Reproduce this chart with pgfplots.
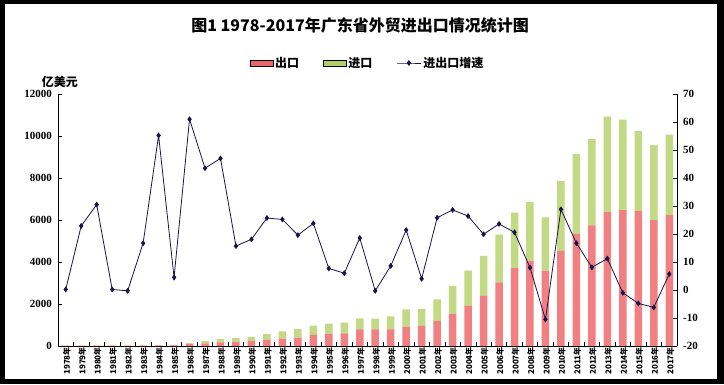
\documentclass[border=0pt]{standalone}
\usepackage{pgfplots}
\usepackage{pgfplotstable}
\pgfplotsset{compat=1.18}
\usepackage{fontspec}
\setmainfont{Liberation Serif}
\newfontfamily\cjk{Noto Sans CJK SC}
\definecolor{navy}{RGB}{25,20,75}
\definecolor{rL}{RGB}{236,100,105}
\definecolor{rM}{RGB}{250,170,170}
\definecolor{gL}{RGB}{178,206,100}
\definecolor{gM}{RGB}{214,233,165}
\definecolor{rB}{RGB}{241,128,130}
\definecolor{gB}{RGB}{196,217,132}
\pgfplotsset{myline/.style={legend image code/.code={\draw[mark repeat=2,mark phase=2,##1] plot coordinates {(0pt,0pt) (12pt,0pt) (24pt,0pt)};}}}

\pgfplotstableread{
i export import growth
0 13.9 2.0 0.2
1 17.1 2.5 22.9
2 21.9 3.8 30.5
3 22.0 3.7 0.2
4 21.9 3.7 -0.3
5 23.9 6.0 16.7
6 24.7 21.7 55.2
7 29.5 20.5 4.5
8 85 55 61.0
9 130 100 43.5
10 170 160 47.0
11 210 170 15.7
12 250 190 18.1
13 300 260 25.7
14 350 350 25.2
15 400 400 19.6
16 530 440 23.8
17 590 470 7.7
18 600 510 6.0
19 790 520 18.6
20 790 515 -0.3
21 790 620 8.6
22 920 820 21.4
23 960 810 4.0
24 1200 1020 25.8
25 1540 1320 28.6
26 1915 1675 26.4
27 2382 1908 19.9
28 3025 2275 23.6
29 3710 2640 20.6
30 4070 2790 8.0
31 3590 2530 -10.5
32 4535 3325 28.8
33 5340 3800 16.7
34 5750 4100 8.1
35 6370 4550 11.2
36 6470 4305 -1.0
37 6430 3805 -4.8
38 5995 3575 -6.2
39 6235 3830 5.7
}\data

\begin{document}
\begin{tikzpicture}[x=1pt,y=1pt]
\fill[black] (0pt,0pt) rectangle (724pt,384pt);
\fill[white] (5pt,5pt) rectangle (717pt,380pt);
\begin{axis}[
  at={(58pt,38pt)}, anchor=south west,
  width=619pt, height=252pt, scale only axis,
  xmin=-0.5, xmax=39.5, ymin=0, ymax=12000,
  axis x line*=bottom, axis y line*=left,
  axis line style={black, line width=0.8pt},
  tick align=inside, major tick length=4pt,
  tick style={black, line width=0.6pt},
  ytick={0,2000,...,12000},
  scaled y ticks=false,
  /pgf/number format/assume math mode=true,
  /pgf/number format/set thousands separator={},
  yticklabel style={font=\bfseries\fontsize{11}{13}\selectfont, inner sep=1pt, xshift=-5pt},
  xtick={-0.5,0.5,...,39.5},
  x tick label as interval,
  xticklabels={1978年,1979年,1980年,1981年,1982年,1983年,1984年,1985年,1986年,1987年,1988年,1989年,1990年,1991年,1992年,1993年,1994年,1995年,1996年,1997年,1998年,1999年,2000年,2001年,2002年,2003年,2004年,2005年,2006年,2007年,2008年,2009年,2010年,2011年,2012年,2013年,2014年,2015年,2016年,2017年},
  xticklabel style={rotate=90, anchor=east, font=\cjk\bfseries\fontsize{8}{8}\selectfont, inner sep=1pt, yshift=-1pt},
  ybar stacked, bar width=7.5pt,
  clip=false,
]
\addplot[draw=none, fill=rB] table[x=i, y=export] {\data};
\addplot[draw=none, fill=gB] table[x=i, y=import] {\data};
\node[font=\cjk\bfseries\fontsize{12}{14}\selectfont] at (axis description cs:0.003,1.05) {亿美元};
\node[font=\cjk\bfseries\fontsize{16}{18}\selectfont] at (axis description cs:0.488,1.274) {图1 1978-2017年广东省外贸进出口情况统计图};
\end{axis}
\begin{axis}[
  at={(58pt,38pt)}, anchor=south west,
  width=619pt, height=252pt, scale only axis,
  xmin=-0.5, xmax=39.5, ymin=-20, ymax=70,
  axis x line=none, axis y line*=right,
  axis line style={black, line width=0.8pt},
  tick align=inside, major tick length=4pt,
  tick style={black, line width=0.6pt},
  ytick={-20,-10,...,70},
  /pgf/number format/assume math mode=true,
  yticklabel style={font=\bfseries\fontsize{11}{13}\selectfont, inner sep=1pt, xshift=5pt},
  legend columns=3,
  legend style={at={(0.5,1.123)}, anchor=center, draw=none, fill=none,
    font=\cjk\bfseries\fontsize{12}{14}\selectfont,
    /tikz/every even column/.append style={column sep=22pt}},
  clip=false,
]
\addlegendimage{area legend, legend image code/.code={\shade[left color=rL, middle color=rM, right color=rL] (0pt,-3pt) rectangle (23pt,3pt);}}
\addlegendentry{出口}
\addlegendimage{area legend, legend image code/.code={\shade[left color=gL, middle color=gM, right color=gL] (0pt,-3pt) rectangle (23pt,3pt);}}
\addlegendentry{进口}
\addplot[navy, line width=0.8pt, mark=diamond*, mark size=2.3pt, mark options={fill=navy, draw=navy}, myline]
  table[x=i, y=growth] {\data};
\addlegendentry{进出口增速}
\end{axis}
\end{tikzpicture}
\end{document}
